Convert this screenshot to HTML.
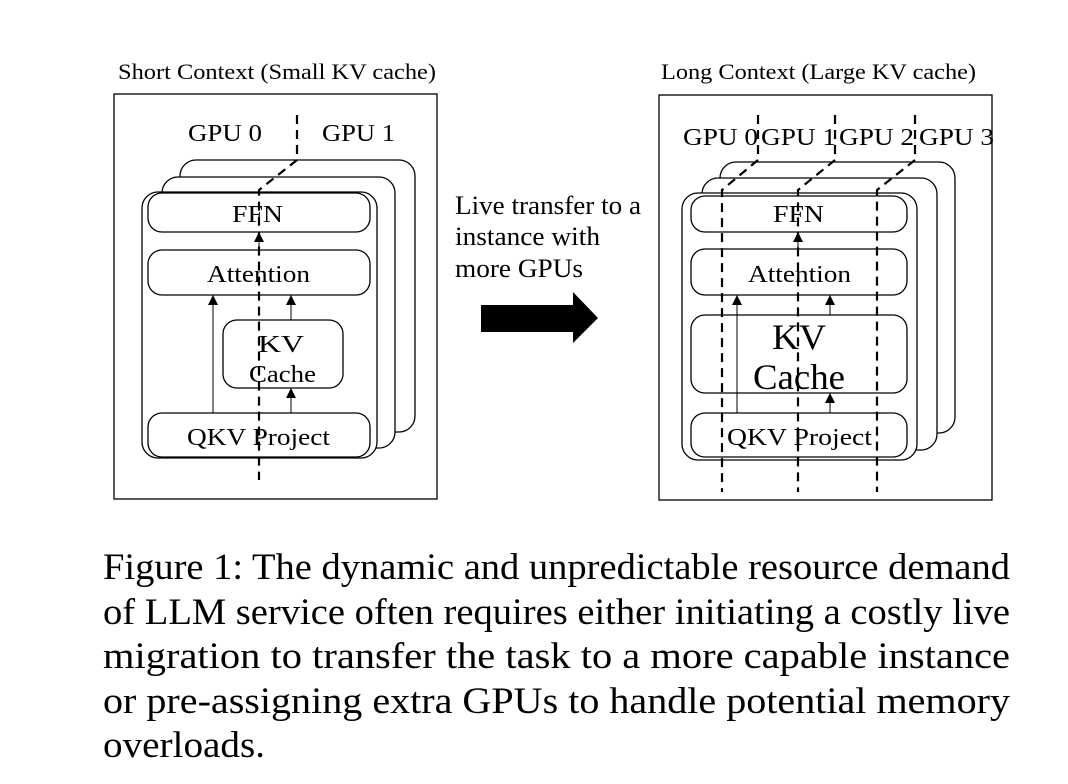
<!DOCTYPE html>
<html><head><meta charset="utf-8"><style>
html,body{margin:0;padding:0;background:#fff;}
svg{display:block}
text{font-family:"Liberation Serif",serif;fill:#000}
</style></head><body>
<svg width="1068" height="784" viewBox="0 0 1068 784" xmlns="http://www.w3.org/2000/svg">
<defs>
<marker id="ah" viewBox="0 0 10 10" refX="10" refY="5" markerWidth="10" markerHeight="10" markerUnits="userSpaceOnUse" orient="auto">
<path d="M0,0 L10,5 L0,10 z" fill="#000"/></marker>
</defs>
<g fill="#fff" stroke="#000" stroke-width="1.3">
<text x="118" y="79" font-size="22" stroke="none" textLength="318" lengthAdjust="spacingAndGlyphs">Short Context (Small KV cache)</text>
<rect x="114" y="94" width="323" height="405" fill="none"/>
<rect x="180" y="160" width="235" height="272" rx="16"/>
<rect x="162" y="177" width="233" height="271" rx="16"/>
<rect x="142" y="192" width="235" height="266" rx="16"/>
<rect x="148" y="193" width="222" height="39" rx="14"/>
<rect x="148" y="250" width="222" height="45" rx="14"/>
<rect x="223" y="320" width="120" height="68" rx="14"/>
<rect x="148" y="413" width="222" height="44" rx="14"/>
</g>
<g font-size="24" lengthAdjust="spacingAndGlyphs">
<text x="188" y="141" textLength="74" lengthAdjust="spacingAndGlyphs">GPU 0</text>
<text x="322" y="141" textLength="73" lengthAdjust="spacingAndGlyphs">GPU 1</text>
<text x="232" y="222" textLength="51" lengthAdjust="spacingAndGlyphs">FFN</text>
<text x="207" y="282" textLength="103" lengthAdjust="spacingAndGlyphs">Attention</text>
<text x="258" y="352" textLength="46" lengthAdjust="spacingAndGlyphs">KV</text>
<text x="249" y="382" textLength="67" lengthAdjust="spacingAndGlyphs">Cache</text>
<text x="187" y="445" textLength="143" lengthAdjust="spacingAndGlyphs">QKV Project</text>
</g>
<g stroke="#000" stroke-width="1" fill="none" marker-end="url(#ah)">
<line x1="213" y1="413" x2="213" y2="295"/>
<line x1="291" y1="320" x2="291" y2="295"/>
<line x1="291" y1="413" x2="291" y2="388"/>
<line x1="259" y1="250" x2="259" y2="232"/>
</g>
<path d="M297 115 L297 160 L259 190 L259 480" fill="none" stroke="#000" stroke-width="2.2" stroke-dasharray="9,6"/>

<!-- middle -->
<g font-size="26">
<text x="455" y="214" textLength="186" lengthAdjust="spacingAndGlyphs">Live transfer to a</text>
<text x="455" y="245" textLength="145" lengthAdjust="spacingAndGlyphs">instance with</text>
<text x="455" y="277" textLength="128" lengthAdjust="spacingAndGlyphs">more GPUs</text>
</g>
<path d="M481 305 L573 305 L573 292 L598 318 L573 343 L573 332 L481 332 z" fill="#000"/>

<!-- right -->
<g fill="#fff" stroke="#000" stroke-width="1.3">
<text x="661" y="79" font-size="22" stroke="none" textLength="315" lengthAdjust="spacingAndGlyphs">Long Context (Large KV cache)</text>
<rect x="659" y="95" width="333" height="405" fill="none"/>
<rect x="720" y="162" width="235" height="271" rx="16"/>
<rect x="702" y="178" width="235" height="272" rx="16"/>
<rect x="682" y="193" width="235" height="267" rx="16"/>
<rect x="691" y="196" width="216" height="36" rx="14"/>
<rect x="691" y="249" width="216" height="46" rx="14"/>
<rect x="691" y="315" width="216" height="78" rx="14"/>
<rect x="691" y="413" width="216" height="44" rx="14"/>
</g>
<g font-size="24">
<text x="683" y="145" textLength="75" lengthAdjust="spacingAndGlyphs">GPU 0</text>
<text x="761" y="145" textLength="75" lengthAdjust="spacingAndGlyphs">GPU 1</text>
<text x="839" y="145" textLength="75" lengthAdjust="spacingAndGlyphs">GPU 2</text>
<text x="919" y="145" textLength="75" lengthAdjust="spacingAndGlyphs">GPU 3</text>
<text x="773" y="222" textLength="51" lengthAdjust="spacingAndGlyphs">FFN</text>
<text x="748" y="282" textLength="103" lengthAdjust="spacingAndGlyphs">Attention</text>
<text x="727" y="445" textLength="145" lengthAdjust="spacingAndGlyphs">QKV Project</text>
</g>
<g font-size="36">
<text x="772" y="349" textLength="54" lengthAdjust="spacingAndGlyphs">KV</text>
<text x="753" y="389" textLength="92" lengthAdjust="spacingAndGlyphs">Cache</text>
</g>
<g stroke="#000" stroke-width="1" fill="none" marker-end="url(#ah)">
<line x1="737" y1="413" x2="737" y2="295"/>
<line x1="830" y1="315" x2="830" y2="295"/>
<line x1="830" y1="413" x2="830" y2="393"/>
<line x1="798" y1="249" x2="798" y2="232"/>
</g>
<g fill="none" stroke="#000" stroke-width="2.2" stroke-dasharray="9,6">
<path d="M758 115 L758 160 L722 190 L722 492"/>
<path d="M835 115 L835 160 L798 190 L798 492"/>
<path d="M915 115 L915 160 L877 190 L877 492"/>
</g>

<!-- caption -->
<g font-size="37">
<text x="103" y="579" textLength="907" lengthAdjust="spacingAndGlyphs">Figure 1: The dynamic and unpredictable resource demand</text>
<text x="103" y="624" textLength="907" lengthAdjust="spacingAndGlyphs">of LLM service often requires either initiating a costly live</text>
<text x="103" y="668" textLength="907" lengthAdjust="spacingAndGlyphs">migration to transfer the task to a more capable instance</text>
<text x="103" y="713" textLength="907" lengthAdjust="spacingAndGlyphs">or pre-assigning extra GPUs to handle potential memory</text>
<text x="103" y="757" textLength="162" lengthAdjust="spacingAndGlyphs">overloads.</text>
</g>
</svg>
</body></html>
